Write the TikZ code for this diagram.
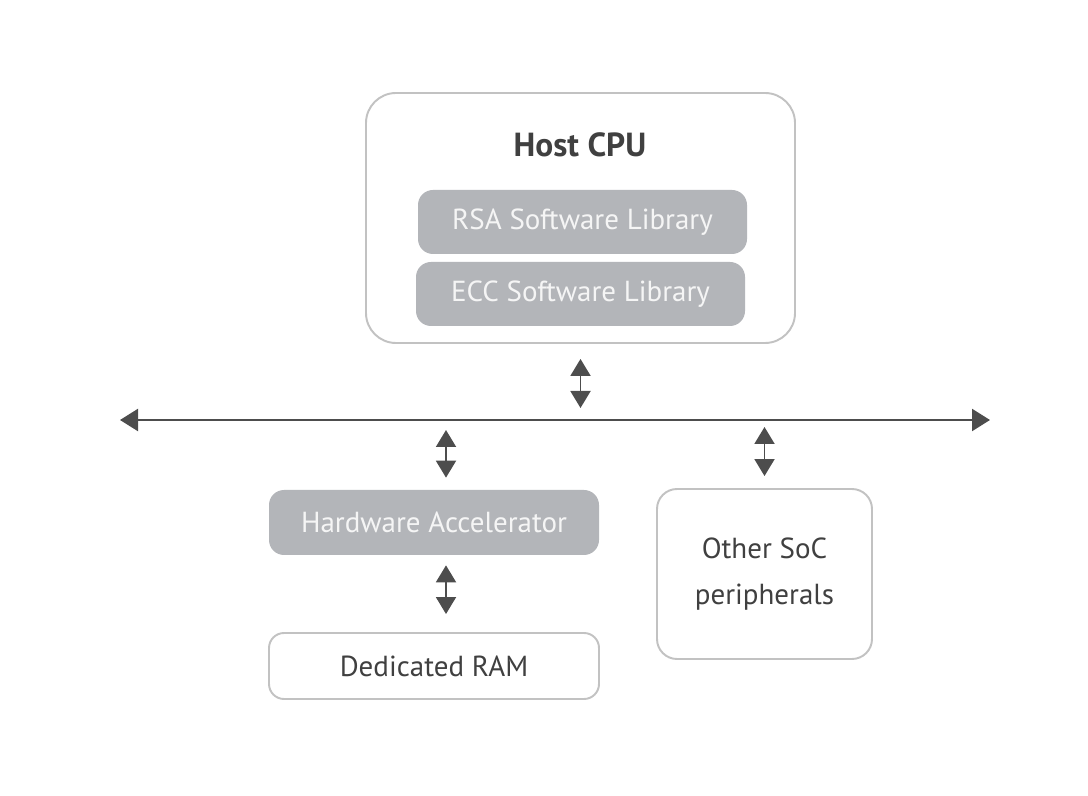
\documentclass[tikz,border=0pt]{standalone}
\usepackage{fontspec}
\setmainfont{PT Sans}
\usepackage{tikz}
\usetikzlibrary{arrows.meta}
\usepackage{xcolor}
\definecolor{boxline}{HTML}{C2C2C2}
\definecolor{boxfill}{HTML}{B3B5B9}
\definecolor{ink}{HTML}{404040}
\definecolor{arrowgray}{HTML}{4D4D4D}
\tikzset{>={Triangle[width=0.4cm,length=0.34cm]}}

\begin{document}
\begin{tikzpicture}
                \tikzstyle{every node}=[text=ink, font=\fontsize{16.5}{20}\selectfont]
                \tikzstyle{plain}=[rectangle, rounded corners=0.3cm, draw=boxline, line width=1.1pt, fill=white]
                \tikzstyle{lib}=[rectangle, rounded corners=0.3cm, fill=boxfill, text=white!96!black, minimum width=6.58cm, minimum height=1.28cm]
                \tikzstyle{link}=[<->, arrowgray, line width=1.1pt]
                \useasboundingbox (0,0) rectangle (21.76,15.9);

                % host side
                \node[plain, rounded corners=0.6cm, minimum width=8.58cm, minimum height=5cm]
                        (host) at (11.61, 11.54) {};
                \node[font=\fontsize{19}{23}\selectfont\bfseries] (hostlbl) at (11.6, 13.0) {Host CPU};
                \node[lib] (rsa) at (11.65, 11.46) {RSA Software Library};
                \node[lib] (ecc) at (11.61, 10.02) {ECC Software Library};

                % system bus
                \coordinate (busl) at (2.4, 7.5);
                \coordinate (busr) at (19.8, 7.5);
                \draw[link, line width=1.3pt, >={Triangle[width=0.44cm,length=0.36cm]}] (busl) -- (busr);
                \draw[link, shorten <=0.3cm, shorten >=0.24cm] (host.south) -- (host.south |- busl);

                % accelerator side
                \node[lib, minimum width=6.6cm, minimum height=1.3cm] (hw) at (8.68, 5.45) {Hardware Accelerator};
                \node[plain, minimum width=6.6cm, minimum height=1.32cm] (ram) at (8.68, 2.58) {Dedicated RAM};
                \draw[link, shorten <=0.2cm, shorten >=0.24cm] ([xshift=0.24cm]hw.north |- busl) -- ([xshift=0.24cm]hw.north);
                \draw[link, shorten <=0.2cm, shorten >=0.36cm] ([xshift=0.24cm]hw.south) -- ([xshift=0.24cm]hw.south |- ram.north);

                % peripherals
                \node[plain, rounded corners=0.4cm, minimum width=4.3cm, minimum height=3.4cm, align=center]
                        (soc) at (15.29, 4.42) {Other SoC\\[6pt]peripherals};
                \draw[link, shorten <=0.14cm, shorten >=0.24cm] (soc.north |- busl) -- (soc.north);
\end{tikzpicture}
\end{document}
